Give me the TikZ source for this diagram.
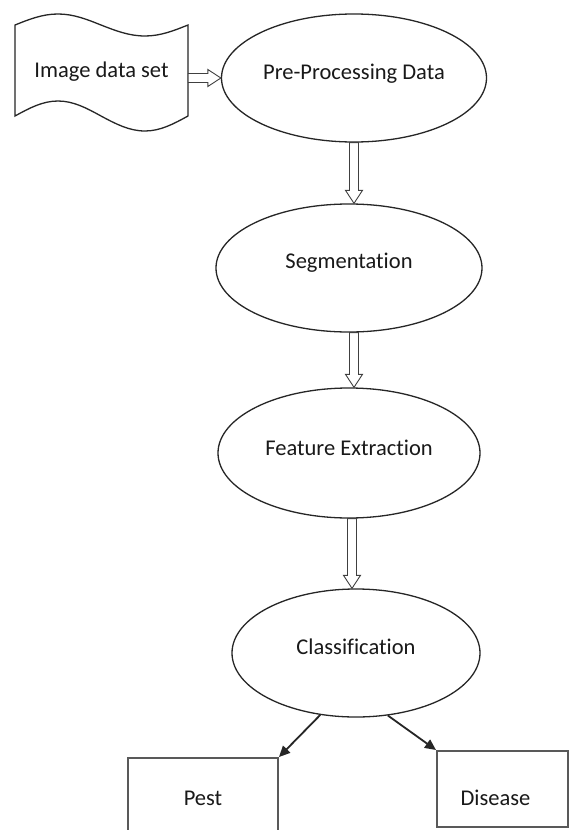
\documentclass[tikz,border=0pt]{standalone}
\usepackage{fontspec}
\setmainfont{Carlito}[Ligatures={NoCommon,NoDiscretionary,NoRare}]
\usetikzlibrary{calc,arrows.meta,shapes.geometric}
\begin{document}
\begin{tikzpicture}[x=1pt,y=-1pt,
  every node/.style={font=\fontsize{22.5}{27}\selectfont, text=black!90},
  oval/.style={ellipse, draw=black!85, line width=1.3pt, inner sep=0pt},
  outbox/.style={rectangle, draw=black!65, line width=2pt, inner sep=0pt},
  wave/.style={draw=black!85, line width=1.3pt},
  hollow/.style={draw=black!75, line width=0.9pt, fill=white, to path={
    let \p1=(\tikztostart), \p2=(\tikztotarget),
        \n1={veclen(\x2-\x1,\y2-\y1)}, \n2={(\x2-\x1)/\n1}, \n3={(\y2-\y1)/\n1} in
    ({\x1-4.5*\n3},{\y1+4.5*\n2}) -- ({\x2-13*\n2-4.5*\n3},{\y2-13*\n3+4.5*\n2})
    -- ({\x2-13*\n2-8.5*\n3},{\y2-13*\n3+8.5*\n2}) -- (\x2,\y2)
    -- ({\x2-13*\n2+8.5*\n3},{\y2-13*\n3-8.5*\n2}) -- ({\x2-13*\n2+4.5*\n3},{\y2-13*\n3-4.5*\n2})
    -- ({\x1+4.5*\n3},{\y1-4.5*\n2}) -- cycle}},
  pointer/.style={-{Triangle[length=11pt,width=10pt]}, line width=1.8pt, draw=black!85}
]
\useasboundingbox (0,0) rectangle (569,830);
\clip (0,0) rectangle (569,830);
\fill[white] (0,0) rectangle (569,830);

% Image data set (punched tape shape)
\draw[wave] (15,25) sin (58,14) cos (101,25) sin (145,36) cos (188,25)
  -- (188,116) sin (145,131) cos (101,116) sin (58,101) cos (15,116) -- cycle;
\node[inner sep=0pt, minimum width=173pt] (img) at (101.5,72) {Image data set};

% Process ellipses
\node[oval, minimum width=265pt, minimum height=128pt,
  label={[yshift=4pt]center:Pre-Processing Data}] (pre) at (354,78) {};
\node[oval, minimum width=266pt, minimum height=128pt,
  label={[yshift=5pt]center:Segmentation}] (seg) at (349,268) {};
\node[oval, minimum width=262pt, minimum height=130pt,
  label={[yshift=5pt]center:Feature Extraction}] (feat) at (349,453) {};
\node[oval, minimum width=248pt, minimum height=128pt,
  label={[yshift=6pt]center:Classification}] (cls) at (356,653) {};

% Output boxes
\node[outbox, minimum width=150pt, minimum height=80pt] (pest) at (203,798) {Pest};
\node[outbox, minimum width=131pt, minimum height=76pt,
  label={[xshift=-7pt,yshift=-9pt]center:Disease}] (dis) at (502.5,789) {};

% Hollow block arrows
\draw[hollow] (img.east |- pre.west) to (pre.west);
\draw[hollow] (pre.south) to (pre.south |- seg.north);
\draw[hollow] ([xshift=5pt]seg.south) to ([xshift=5pt]seg.south |- feat.north);
\draw[hollow] ([xshift=3pt]feat.south) to ([xshift=3pt]feat.south |- cls.north);

% Output arrows
\draw[pointer] (cls.240) -- (pest.north east);
\draw[pointer] (cls.297) -- (dis.north west);
\end{tikzpicture}
\end{document}
